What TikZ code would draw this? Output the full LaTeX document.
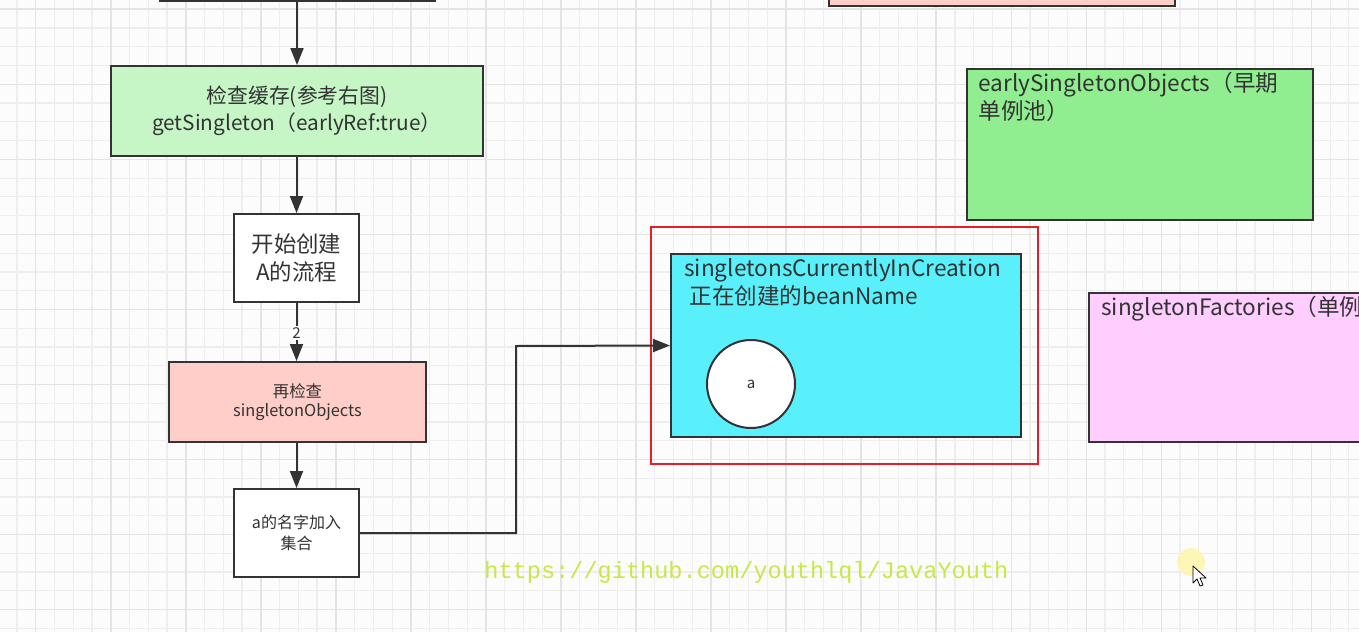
\documentclass[tikz,border=0pt]{standalone}
\usepackage{fontspec}
\setmainfont{Noto Sans CJK SC}
\newfontfamily\urlfont{Liberation Mono}
\usetikzlibrary{arrows.meta}
\definecolor{dark}{RGB}{51,51,51}
\definecolor{gridminor}{RGB}{238,238,238}
\definecolor{gridmajor}{RGB}{228,228,228}
\definecolor{bgc}{RGB}{252,252,252}
\definecolor{lgreen}{RGB}{198,245,198}
\definecolor{lpink}{RGB}{255,206,201}
\definecolor{lcyan}{RGB}{90,240,251}
\definecolor{mgreen}{RGB}{144,238,144}
\definecolor{lpurple}{RGB}{255,206,255}
\definecolor{redframe}{RGB}{230,30,40}
\definecolor{urlc}{RGB}{200,232,70}
\definecolor{halo}{RGB}{255,245,170}
\tikzset{
  box/.style={draw=dark, line width=1pt, inner sep=0pt, align=center, text=dark},
  arr/.style={draw=dark, line width=1pt, -{Triangle[length=8.5pt,width=6.5pt]}},
  toptext/.style={anchor=north west, align=left, inner sep=0pt, text=dark, font=\fontsize{11.3}{14}\selectfont},
}
\begin{document}
\begin{tikzpicture}[x=0.5pt,y=-0.5pt]
\useasboundingbox (0,0) rectangle (1359,632);
\fill[bgc] (0,0) rectangle (1359,632);
% grid
\foreach \i in {0,...,72} {
  \draw[gridminor, line width=0.6pt] ({16.9+18.76*\i},0) -- ({16.9+18.76*\i},632);
}
\foreach \j in {0,...,34} {
  \draw[gridminor, line width=0.6pt] (0,{9.26+18.76*\j}) -- (1359,{9.26+18.76*\j});
}
\foreach \i in {0,...,18} {
  \draw[gridmajor, line width=0.8pt] ({35.65+75.05*\i},0) -- ({35.65+75.05*\i},632);
}
\foreach \j in {0,...,8} {
  \draw[gridmajor, line width=0.8pt] (0,{9.25+75.05*\j}) -- (1359,{9.25+75.05*\j});
}

% partial boxes at top
\node[box, fill=white, minimum width=137.5pt, minimum height=25pt] (topbox) at (297.5,-24) {};
\node[box, fill=lpink, minimum width=173pt, minimum height=25pt] (toppink) at (1002,-19) {};

% left flow
\node[box, fill=lgreen, minimum width=186pt, minimum height=45pt,
      font=\fontsize{10.4}{13.5}\selectfont] (check) at (297,111)
      {检查缓存(参考右图)\\getSingleton（earlyRef:true）};
\node[box, fill=white, minimum width=62.5pt, minimum height=44pt,
      font=\fontsize{11.2}{14}\selectfont] (start) at (296.5,258)
      {开始创建\\A的流程};
\node[box, fill=lpink, minimum width=128.5pt, minimum height=40pt,
      font=\fontsize{8.2}{9.8}\selectfont] (recheck) at (297.5,402)
      {再检查\\singletonObjects};
\node[box, fill=white, minimum width=62.5pt, minimum height=44pt,
      font=\fontsize{8}{10.5}\selectfont] (add) at (296.5,533)
      {a的名字加入\\集合};

\draw[arr] (topbox.south -| check.north) -- (check.north);
\draw[arr] (check.south -| start.north) -- (start.north);
\draw[arr] (start.south) -- node[fill=white, inner sep=0.8pt, text=dark, font=\fontsize{7.5}{8}\selectfont, pos=0.52] (two) {2} (start.south |- recheck.north);
\draw[arr] (recheck.south -| add.north) -- (add.north);

% right side
\draw[redframe, line width=0.75pt] (651,227) rectangle (1038,464);
\node[box, fill=lcyan, minimum width=175pt, minimum height=91.5pt] (cyan) at (846,345.5) {};
\node[toptext] (cyantext) at (684,258) {singletonsCurrentlyInCreation\\\ 正在创建的beanName};
\node[draw=dark, line width=1pt, fill=white, circle, minimum size=44pt, inner sep=0pt,
      text=dark, font=\fontsize{7.5}{8}\selectfont] (a) at (751,384) {a};

\node[box, fill=mgreen, minimum width=173pt, minimum height=75.5pt] (early) at (1140,144.5) {};
\node[toptext] (earlytext) at (978,72) {earlySingletonObjects（早期\\单例池）};

\node[box, fill=lpurple, minimum width=150pt, minimum height=74.5pt] (factories) at (1239,367.5) {};
\node[toptext] (factext) at (1101,296) {singletonFactories（单例};

\coordinate (bend) at (516,346);
\draw[arr] (add.east) -| (bend) -- (cyan.west);

% watermark
\node[anchor=west, inner sep=0pt, text=urlc, font=\urlfont\fontsize{11.8}{12}\selectfont] (url) at (484,572) {https://github.com/youthlql/JavaYouth};

% cursor
\fill[halo, opacity=0.85] (1191,562) circle (14);
\draw[black, fill=white, line width=0.4pt, line join=round]
  (1193,566) -- ++(0,17) -- ++(4,-4) -- ++(3,7) -- ++(3,-1) -- ++(-3,-7) -- ++(6,0) -- cycle;
\end{tikzpicture}
\end{document}
